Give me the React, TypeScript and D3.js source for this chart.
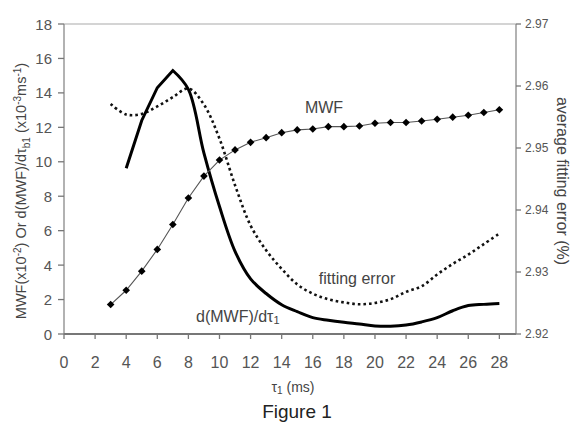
import React from "react";
import * as d3 from "d3";

const W = 574;
const H = 423;

const tau = [3, 4, 5, 6, 7, 8, 9, 10, 11, 12, 13, 14, 15, 16, 17, 18, 19, 20, 21, 22, 23, 24, 25, 26, 27, 28];
const mwf = [1.71, 2.54, 3.65, 4.91, 6.36, 7.9, 9.17, 10.1, 10.69, 11.13, 11.4, 11.69, 11.85, 11.9, 12.04, 12.04, 12.08, 12.24, 12.28, 12.28, 12.37, 12.47, 12.59, 12.7, 12.86, 13.02];

const tauDeriv = [4, 5, 6, 7, 8, 9, 10, 11, 12, 13, 14, 15, 16, 17, 18, 19, 20, 21, 22, 23, 24, 25, 26, 27, 28];
const deriv = [9.62, 12.4, 14.3, 15.3, 14.2, 10.5, 7.4, 4.8, 3.2, 2.35, 1.7, 1.3, 0.95, 0.8, 0.68, 0.58, 0.47, 0.45, 0.52, 0.7, 0.95, 1.35, 1.65, 1.72, 1.77];

const fitErr = [2.9571, 2.9554, 2.9555, 2.9567, 2.9582, 2.9596, 2.957, 2.9515, 2.944, 2.9375, 2.9335, 2.9305, 2.928, 2.9265, 2.9256, 2.9251, 2.9248, 2.925, 2.9256, 2.9268, 2.9277, 2.9296, 2.9313, 2.9328, 2.9345, 2.9362];

const xTicks = [0, 2, 4, 6, 8, 10, 12, 14, 16, 18, 20, 22, 24, 26, 28];
const yLeftTicks = [0, 2, 4, 6, 8, 10, 12, 14, 16, 18];
const yRightTicks = [2.92, 2.93, 2.94, 2.95, 2.96, 2.97];

const L = 64, R = 516, T = 24, B = 334;

export default function App() {
  const x = d3.scaleLinear().domain([0, 29.07]).range([L, R]);
  const yL = d3.scaleLinear().domain([0, 18]).range([B, T]);
  const yR = d3.scaleLinear().domain([2.92, 2.97]).range([B, T]);

  const derivPts: [number, number][] = deriv.map((d, i) => [x(tauDeriv[i]), yL(d)]);
  const peak = 3;

  const mwfLine = d3.line<number>().x((_, i) => x(tau[i])).y((d) => yL(d));
  const derivRise = d3.line<[number, number]>();
  const derivFall = d3.line<[number, number]>().curve(d3.curveCatmullRom.alpha(0.5));
  const errLine = d3
    .line<number>()
    .x((_, i) => x(tau[i]))
    .y((d) => yR(d))
    .curve(d3.curveCatmullRom.alpha(0.5));

  const font = "'Liberation Sans', Arial, sans-serif";
  const grey = "#555";

  return (
    <svg
      width={W}
      height={H}
      style={{ position: "absolute", left: 0, top: 0, background: "#fff" }}
      fontFamily={font}
    >
      <rect x={0} y={0} width={W} height={H} fill="#fff" />
      {/* frame */}
      <line x1={L} x2={R} y1={T} y2={T} stroke="#aaa" strokeWidth={1.2} />
      <line x1={L} x2={L} y1={T} y2={B} stroke="#999" strokeWidth={1.5} />
      <line x1={R} x2={R} y1={T} y2={B} stroke="#999" strokeWidth={1.5} />
      <line x1={L} x2={R} y1={B} y2={B} stroke="#777" strokeWidth={1.8} />

      {/* left ticks */}
      {yLeftTicks.map((t) => (
        <g key={"yl" + t}>
          <line x1={L - 6} x2={L} y1={yL(t)} y2={yL(t)} stroke="#777" strokeWidth={1.3} />
          <text x={52} y={yL(t)} textAnchor="end" dominantBaseline="central" fontSize={15} fill={grey}>
            {t}
          </text>
        </g>
      ))}
      {/* right ticks */}
      {yRightTicks.map((t) => (
        <g key={"yr" + t}>
          <line x1={R} x2={R + 5} y1={yR(t)} y2={yR(t)} stroke="#777" strokeWidth={1.3} />
          <text x={525} y={yR(t)} textAnchor="start" dominantBaseline="central" fontSize={12} fill={grey}>
            {t.toFixed(2)}
          </text>
        </g>
      ))}
      {/* bottom ticks */}
      {xTicks.map((t) => (
        <g key={"x" + t}>
          <line x1={x(t)} x2={x(t)} y1={B} y2={B + 5} stroke="#777" strokeWidth={1.3} />
          <text x={x(t)} y={362} textAnchor="middle" dominantBaseline="central" fontSize={16} fill={grey}>
            {t}
          </text>
        </g>
      ))}

      {/* series */}
      <path d={errLine(fitErr) || ""} fill="none" stroke="#111" strokeWidth={2.6} strokeDasharray="2.6 3" />
      <path
        d={(derivRise(derivPts.slice(0, peak + 1)) || "") + (derivFall(derivPts.slice(peak)) || "").replace(/^M/, "L")}
        fill="none"
        stroke="#000"
        strokeWidth={3}
        strokeLinejoin="miter"
      />
      <path d={mwfLine(mwf) || ""} fill="none" stroke="#555" strokeWidth={1.1} />
      {mwf.map((v, i) => (
        <rect
          key={"m" + i}
          x={-2.7}
          y={-2.7}
          width={5.4}
          height={5.4}
          fill="#000"
          transform={`translate(${x(tau[i])},${yL(v)}) rotate(45)`}
        />
      ))}

      {/* annotations */}
      <text x={324} y={107} textAnchor="middle" dominantBaseline="central" fontSize={16} fill="#444">
        MWF
      </text>
      <text x={357} y={278} textAnchor="middle" dominantBaseline="central" fontSize={16} fill="#444">
        fitting error
      </text>
      <text x={196} y={316} textAnchor="start" dominantBaseline="central" fontSize={16} fill="#444">
        d(MWF)/dτ<tspan fontSize={11} dy={4}>1</tspan>
      </text>

      {/* axis titles */}
      <text x={293} y={387} textAnchor="middle" dominantBaseline="central" fontSize={14} fill="#444">
        τ<tspan fontSize={10} dy={3}>1</tspan>
        <tspan dy={-3}> (ms)</tspan>
      </text>
      <text x={297} y={411} textAnchor="middle" dominantBaseline="central" fontSize={19} fill="#222">
        Figure 1
      </text>
      <text
        transform="translate(26,191) rotate(-90)"
        textAnchor="middle"
        fontSize={14.5}
        fill="#444"
      >
        MWF(x10<tspan fontSize={10} dy={-5}>-2</tspan>
        <tspan dy={5}>) Or d(MWF)/dτ</tspan>
        <tspan fontSize={10} dy={4}>b1</tspan>
        <tspan dy={-4}> (x10</tspan>
        <tspan fontSize={10} dy={-5}>-3</tspan>
        <tspan dy={5}>ms</tspan>
        <tspan fontSize={10} dy={-5}>-1</tspan>
        <tspan dy={5}>)</tspan>
      </text>
      <text
        transform="translate(562,181) rotate(90)"
        textAnchor="middle"
        dominantBaseline="central"
        fontSize={16}
        fill="#444"
      >
        average fitting error (%)
      </text>
    </svg>
  );
}
